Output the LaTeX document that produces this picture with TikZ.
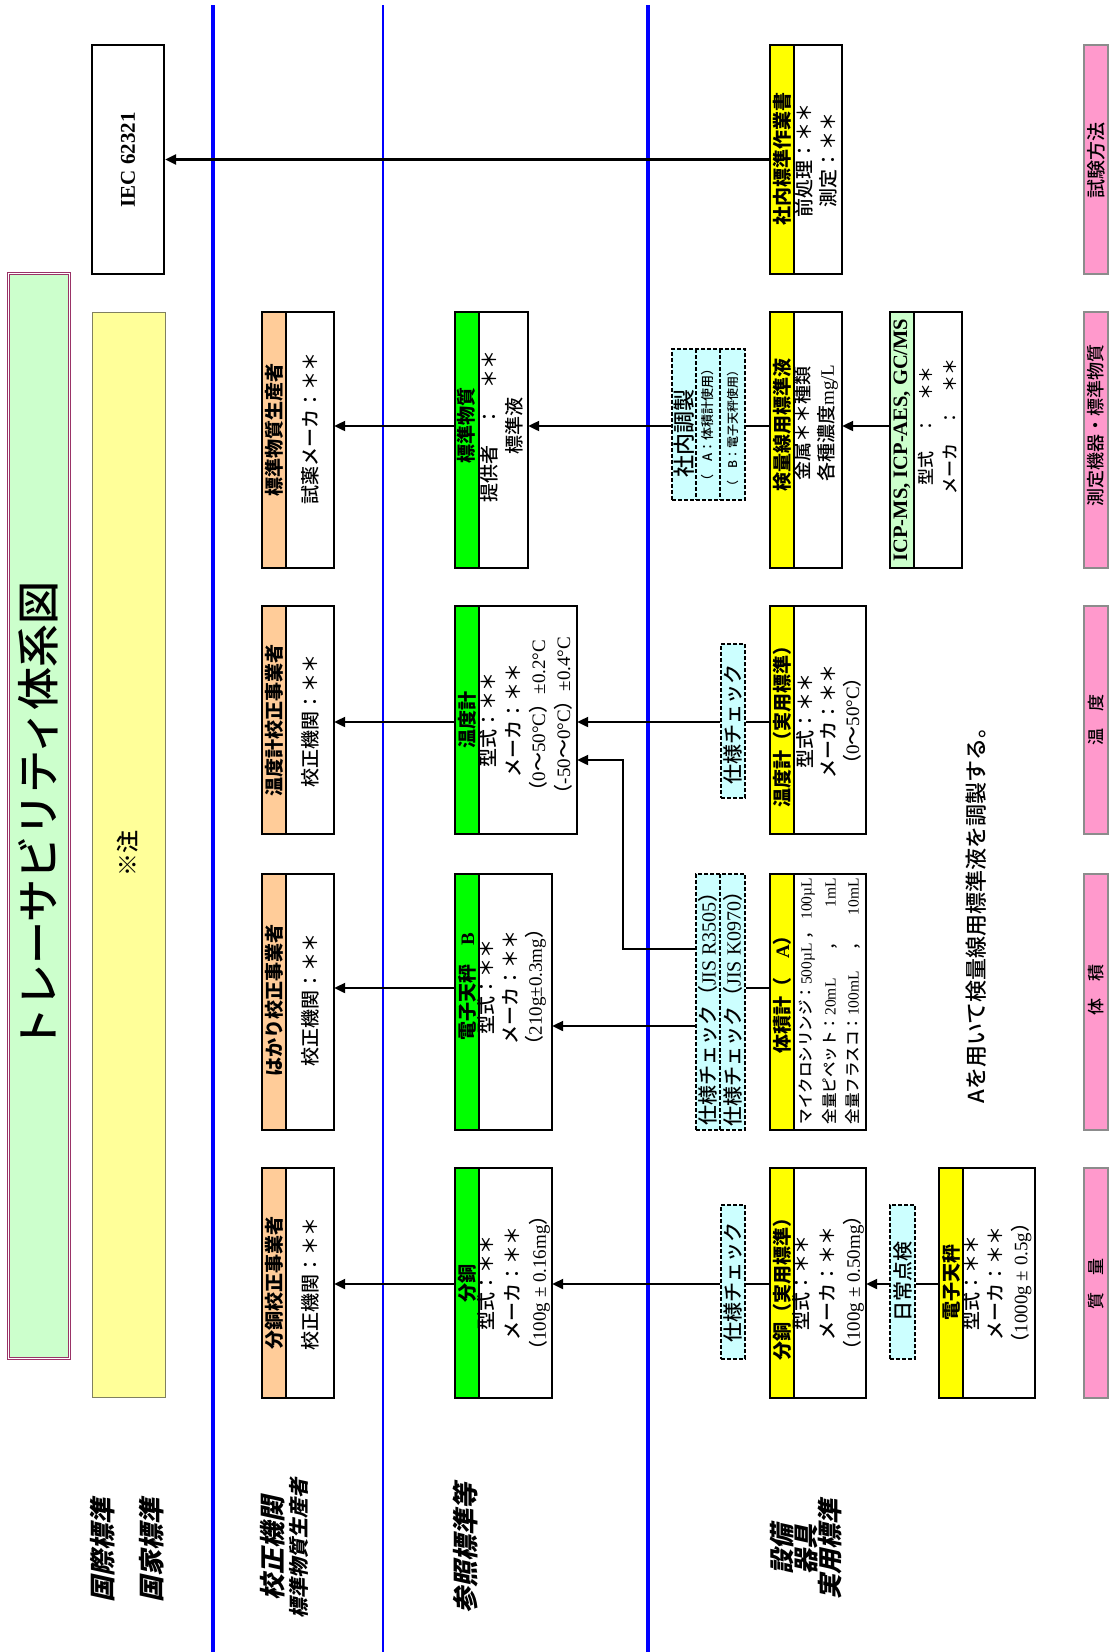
\documentclass[tikz,border=0pt]{standalone}
\usepackage{fontspec}
\setmainfont{Liberation Serif}
\newfontfamily\jp{Noto Sans CJK JP}
\IfFontExistsTF{Noto Sans CJK JP Medium}{\newfontfamily\jpm{Noto Sans CJK JP Medium}}{\newfontfamily\jpm{Noto Sans CJK JP}}
\IfFontExistsTF{Noto Sans CJK JP Black}{\newfontfamily\jph{Noto Sans CJK JP Black}\newcommand\hw{}}{\newfontfamily\jph{Noto Sans CJK JP}\newcommand\hw{\bfseries}}
\newfontfamily\jpi{Noto Sans CJK JP}[FakeSlant=0.22]
\usetikzlibrary{arrows.meta,fit}
\newcommand\fs[2]{\fontsize{#1pt}{#2pt}\selectfont}
\newcommand\R[1]{{\rmfamily #1}}
\definecolor{hdOr}{HTML}{FFCC99}
\definecolor{hdG}{HTML}{00FF00}
\definecolor{hdY}{HTML}{FFFF00}
\definecolor{hdLG}{HTML}{CCFFCC}
\definecolor{cyanL}{HTML}{CCFFFF}
\definecolor{pinkF}{HTML}{FF99CC}
\definecolor{pinkB}{HTML}{8C8C8C}
\definecolor{titleG}{HTML}{CCFFCC}
\definecolor{purp}{HTML}{993366}
\definecolor{noteY}{HTML}{FFFF99}
\definecolor{noteB}{HTML}{808060}
\definecolor{bluel}{HTML}{0000FF}
\tikzset{
  txt/.style={rotate=90, inner sep=0pt, align=center, font=\jpm\fs{19}{25}},
  hd/.style={rotate=90, inner sep=0pt, font=\jph\hw\fs{19}{22}},
  lbl/.style={rotate=90, inner sep=0pt, align=center, font=\jpi\bfseries\fs{26}{24}},
  arr/.style={line width=2.2pt, -{Triangle[length=11pt,width=10pt]}},
  ln/.style={line width=2.2pt},
  dsh/.style={draw, dash pattern=on 4pt off 2pt, line width=1.4pt, fill=cyanL, inner sep=0pt},
  dln/.style={dash pattern=on 4pt off 2pt, line width=1.4pt},
  pk/.style={draw=pinkB, line width=1.3pt, fill=pinkF, inner sep=0pt},
}
\newcommand\hdbox[6]{%
  \node[inner sep=0pt, fill=white, fit={(#2,#3)(#4,#5)}] (#1) {};
  \fill[#6] (#2,#3) rectangle ({#2+24},#5);
  \draw[line width=1.6pt] ({#2+24},#3) -- ({#2+24},#5);
  \draw[line width=2.4pt] (#2,#3) rectangle (#4,#5);
}
\begin{document}
\begin{tikzpicture}[x=1pt,y=-1pt]
\useasboundingbox (0,0) rectangle (1112,1652);
\fill[white] (0,0) rectangle (1112,1652);

% vertical blue lines
\draw[bluel, line width=4pt] (213,5) -- (213,1652);
\draw[bluel, line width=2pt] (383,5) -- (383,1652);
\draw[bluel, line width=4pt] (648,5) -- (648,1652);

% title
\draw[purp, line width=1.2pt, double=white, double distance=1.5pt, fill=titleG] (8.5,273.5) rectangle (69.5,1358.5);
\node[rotate=90, inner sep=0pt, font=\jpm\fs{43}{43}] (title) at (38,816) {トレーサビリティ体系図};

% note band
\node[inner sep=0pt, draw=noteB, line width=1pt, fill=noteY, fit={(92,312)(165,1397)}] (note) {};
\node[txt, font=\jpm\fs{23}{23}] (noteT) at (128,853) {※注};

% IEC
\node[inner sep=0pt, draw, line width=2.2pt, fill=white, fit={(92,45)(164,274)}] (iec) {};
\node[rotate=90, inner sep=0pt, font=\rmfamily\bfseries\fs{21}{21}] (iecT) at (128,160) {IEC 62321};

% calibration row
\hdbox{seisan}{262}{312}{334}{568}{hdOr}
\node[hd] (seisanH) at (274.5,430) {標準物質生産者};
\node[txt] (seisanT) at (310,428) {試薬メーカ：＊＊};
\hdbox{ondokosei}{262}{606}{334}{834}{hdOr}
\node[hd] (ondokoseiH) at (274.5,720) {温度計校正事業者};
\node[txt] (ondokoseiT) at (310,721) {校正機関：＊＊};
\hdbox{hakari}{262}{874}{334}{1130}{hdOr}
\node[hd] (hakariH) at (274.5,1000) {はかり校正事業者};
\node[txt] (hakariT) at (310,1000) {校正機関：＊＊};
\hdbox{fundokosei}{262}{1168}{334}{1398}{hdOr}
\node[hd] (fundokoseiH) at (274.5,1283) {分銅校正事業者};
\node[txt] (fundokoseiT) at (310,1284) {校正機関：＊＊};

% reference standards row
\hdbox{hyojun}{455}{312}{528}{568}{hdG}
\node[hd] (hyojunH) at (466.5,425) {標準物質};
\node[txt] (hyojunT) at (502,426) {提供者　：　＊＊\\標準液};
\hdbox{ondo}{455}{606}{577}{834}{hdG}
\node[hd] (ondoH) at (467,720) {温度計};
\node[txt] (ondoT) at (525.5,720) {型式：＊＊\\メーカ：＊＊\\（\R{0}～\R{50°C}）\R{±0.2°C}\\（\R{-50}～\R{0°C}）\R{±0.4°C}};
\hdbox{denshiB}{455}{874}{552}{1130}{hdG}
\node[hd] (denshiBH) at (467,987) {電子天秤\quad\R{\bfseries B}};
\node[txt, font=\jpm\fs{19}{24}] (denshiBT) at (512,987) {型式：＊＊\\メーカ：＊＊\\（\R{210g±0.3mg}）};
\hdbox{fundo}{455}{1168}{552}{1398}{hdG}
\node[hd] (fundoH) at (467,1283) {分銅};
\node[txt, font=\jpm\fs{19}{26}] (fundoT) at (514,1283) {型式：＊＊\\メーカ：＊＊\\（\R{100g ± 0.16mg}）};

% dashed check boxes
\node[dsh, fit={(672,349)(745,500)}] (shanai) {};
\draw[dln] (696,349) -- (696,500);
\draw[dln] (720,349) -- (720,500);
\node[txt, font=\jpm\fs{22}{22}] (shanaiT1) at (684,433) {社内調製};
\node[txt, font=\jpm\fs{13}{13}] (shanaiT2) at (708,425) {（　A：体積計使用）};
\node[txt, font=\jpm\fs{12}{12}] (shanaiT3) at (732.5,428) {（　B：電子天秤使用）};
\node[dsh, fit={(721,644)(745,798)}] (shiyo1) {};
\node[txt, font=\jpm\fs{20}{20}] (shiyo1T) at (733,724) {仕様チェック};
\node[dsh, fit={(696,874)(745,1130)}] (jis) {};
\draw[dln] (720,874) -- (720,1130);
\node[txt, font=\jpm\fs{20}{20}] (jisT1) at (708,1004) {仕様チェック（\R{JIS R3505}）};
\node[txt, font=\jpm\fs{20}{20}] (jisT2) at (733,1004) {仕様チェック（\R{JIS K0970}）};
\node[dsh, fit={(721,1205)(745,1359)}] (shiyo2) {};
\node[txt, font=\jpm\fs{20}{20}] (shiyo2T) at (733,1282) {仕様チェック};
\node[dsh, fit={(890,1205)(915,1359)}] (nichijo) {};
\node[txt, font=\jpm\fs{20}{20}] (nichijoT) at (902.5,1281) {日常点検};

% equipment row
\hdbox{shanaiwork}{770}{45}{842}{274}{hdY}
\node[hd] (shanaiworkH) at (782,159) {社内標準作業書};
\node[txt, font=\jpm\fs{19}{24}] (shanaiworkT) at (816,160) {前処理：＊＊\\測定：＊＊};
\hdbox{kenryo}{770}{312}{842}{568}{hdY}
\node[hd] (kenryoH) at (782,425) {検量線用標準液};
\node[txt, font=\jpm\fs{19}{24}] (kenryoT) at (816,423) {金属＊＊種類\\各種濃度\R{mg/L}};
\hdbox{ondojitsu}{770}{606}{866}{834}{hdY}
\node[hd] (ondojitsuH) at (782,722) {温度計（実用標準）};
\node[txt, font=\jpm\fs{19}{23.5}] (ondojitsuT) at (828.5,721) {型式：＊＊\\メーカ：＊＊\\（\R{0}～\R{50°C}）};
\hdbox{taiseki}{770}{874}{866}{1130}{hdY}
\node[hd] (taisekiH) at (782,990) {体積計（\quad\R{\bfseries A}）};
\node[txt, font=\jpm\fs{15.5}{16}] (taisekiT1) at (807,1001) {\makebox[246pt]{マイクロシリンジ：\R{500µL}\hfill，\hfill\R{100µL}}};
\node[txt, font=\jpm\fs{15.5}{16}] (taisekiT2) at (830,1001) {\makebox[246pt]{全量ピペット：\R{20mL}\hfill，\hfill\R{1mL}}};
\node[txt, font=\jpm\fs{15.5}{16}] (taisekiT3) at (853,1001) {\makebox[246pt]{全量フラスコ：\R{100mL}\hfill，\hfill\R{10mL}}};
\hdbox{fundojitsu}{770}{1168}{866}{1398}{hdY}
\node[hd] (fundojitsuH) at (782,1284) {分銅（実用標準）};
\node[txt, font=\jpm\fs{19}{25.5}] (fundojitsuT) at (828.5,1283) {型式：＊＊\\メーカ：＊＊\\（\R{100g ± 0.50mg}）};
\hdbox{icp}{890}{312}{962}{568}{hdLG}
\node[rotate=90, inner sep=0pt, font=\rmfamily\bfseries\fs{20.5}{20.5}] (icpH) at (902,440) {ICP-MS, ICP-AES, GC/MS};
\node[txt, font=\jpm\fs{17}{24}] (icpT) at (938,426) {型式　：　＊＊\\メーカ　：　＊＊};
\hdbox{denshi}{939}{1168}{1035}{1398}{hdY}
\node[hd] (denshiH) at (951,1282) {電子天秤};
\node[txt, font=\jpm\fs{19}{24.5}] (denshiT) at (997,1283) {型式：＊＊\\メーカ：＊＊\\（\R{1000g ± 0.5g}）};

% note text
\node[txt, font=\jpm\fs{22}{22}] (noteA) at (976,910) {Aを用いて検量線用標準液を調製する。};

% pink category boxes
\node[pk, fit={(1084,45)(1108,274)}] (p1) {};
\node[txt, font=\jpm\fs{19}{19}] (p1T) at (1096,160) {試験方法};
\node[pk, fit={(1084,312)(1108,568)}] (p2) {};
\node[txt, font=\jpm\fs{18}{18}] (p2T) at (1096,425) {測定機器・標準物質};
\node[pk, fit={(1084,606)(1108,834)}] (p3) {};
\node[txt, font=\jpm\fs{17}{17}] (p3T) at (1096,720) {温　度};
\node[pk, fit={(1084,874)(1108,1130)}] (p4) {};
\node[txt, font=\jpm\fs{17}{17}] (p4T) at (1096,990) {体　積};
\node[pk, fit={(1084,1168)(1108,1398)}] (p5) {};
\node[txt, font=\jpm\fs{17}{17}] (p5T) at (1096,1284) {質　量};

% row labels
\node[lbl] (lab1) at (103,1550) {国際標準};
\node[lbl] (lab2) at (152,1550) {国家標準};
\node[lbl] (lab3) at (273,1548) {校正機関};
\node[lbl, font=\jpi\bfseries\fs{20}{20}] (lab4) at (299,1548) {標準物質生産者};
\node[lbl] (lab5) at (466,1548) {参照標準等};
\node[lbl, font=\jpi\bfseries\fs{25}{24}] (lab6) at (806,1549) {設備\\器具\\実用標準};

% connectors
\coordinate (r2) at (0,426);
\coordinate (r3) at (0,722);
\coordinate (r3b) at (623,760);
\coordinate (r4a) at (0,949);
\coordinate (r4) at (0,988);
\coordinate (r4c) at (0,1026);
\coordinate (r5) at (0,1284);
\draw[arr] (shanaiwork.west) -- (iec.east);
\draw[arr] (hyojun.west |- r2) -- (seisan.east |- r2);
\draw[arr] (shanai.west |- r2) -- (hyojun.east |- r2);
\draw[ln] (shanai.east |- r2) -- (kenryo.west |- r2);
\draw[arr] (icp.west |- r2) -- (kenryo.east |- r2);
\draw[arr] (ondo.west |- r3) -- (ondokosei.east |- r3);
\draw[arr] (shiyo1.west |- r3) -- (ondo.east |- r3);
\draw[ln] (shiyo1.east |- r3) -- (ondojitsu.west |- r3);
\draw[arr] (jis.west |- r4a) -| (r3b) -- (ondo.east |- r3b);
\draw[arr] (denshiB.west |- r4) -- (hakari.east |- r4);
\draw[arr] (jis.west |- r4c) -- (denshiB.east |- r4c);
\draw[ln] (jis.east |- r4) -- (taiseki.west |- r4);
\draw[arr] (fundo.west |- r5) -- (fundokosei.east |- r5);
\draw[arr] (shiyo2.west |- r5) -- (fundo.east |- r5);
\draw[ln] (shiyo2.east |- r5) -- (fundojitsu.west |- r5);
\draw[arr] (nichijo.west |- r5) -- (fundojitsu.east |- r5);
\draw[ln] (denshi.west |- r5) -- (nichijo.east |- r5);
\end{tikzpicture}
\end{document}
